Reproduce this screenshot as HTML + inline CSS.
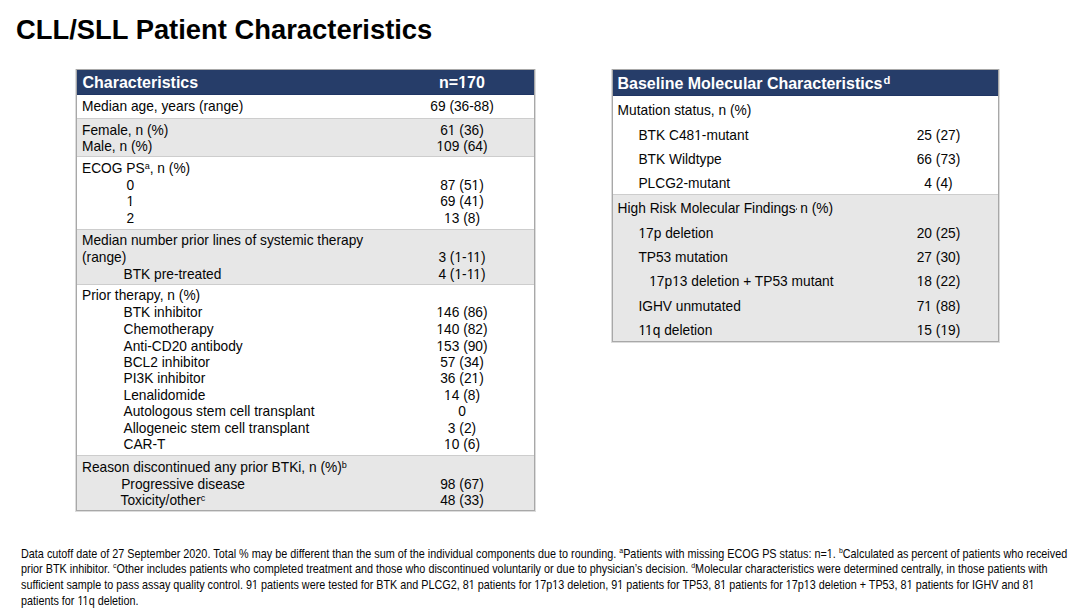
<!DOCTYPE html>
<html><head><meta charset="utf-8"><style>
html,body{margin:0;padding:0;background:#fff;}
body{width:1080px;height:614px;position:relative;overflow:hidden;font-family:"Liberation Sans",sans-serif;}
.t{position:absolute;white-space:nowrap;}
sup{font-size:0.66em;vertical-align:0;position:relative;top:-0.4em;line-height:0;}
sup.h{font-size:0.7em;top:-0.42em;margin-left:1px;}
.one{display:inline-block;clip-path:polygon(0 0,100% 0,100% calc(100% - 3px - 0.1em),0.345em calc(100% - 3px - 0.1em),0.345em 100%,0.245em 100%,0.245em calc(100% - 3px - 0.1em),0 calc(100% - 3px - 0.1em));}
.b .one{clip-path:polygon(0 0,100% 0,100% calc(100% - 3px - 0.13em),0.375em calc(100% - 3px - 0.13em),0.375em 100%,0.23em 100%,0.23em calc(100% - 3px - 0.13em),0 calc(100% - 3px - 0.13em));}
.one.k{margin-left:-0.074em;}
.f{transform-origin:0 0;}
.f sup{top:-0.62em;font-size:0.64em;}
</style></head><body>
<div class="t b" style="top:14.00px;font-size:27.39px;line-height:31.00px;color:#000;font-weight:bold;left:16px;">CLL/SLL Patient Characteristics</div>
<div style="position:absolute;left:77px;top:95px;width:457px;height:23px;background:#fff;"></div>
<div style="position:absolute;left:77px;top:119px;width:457px;height:37px;background:#e7e7e7;"></div>
<div style="position:absolute;left:77px;top:157px;width:457px;height:72px;background:#fff;"></div>
<div style="position:absolute;left:77px;top:230px;width:457px;height:54px;background:#e7e7e7;"></div>
<div style="position:absolute;left:77px;top:285px;width:457px;height:170px;background:#fff;"></div>
<div style="position:absolute;left:77px;top:456px;width:457px;height:54px;background:#e7e7e7;"></div>
<div style="position:absolute;left:77px;top:70px;width:457px;height:25px;background:#263d69;"></div>
<div style="position:absolute;left:77px;top:94px;width:457px;height:1px;background:#1f3563;"></div>
<div style="position:absolute;left:77px;top:118px;width:457px;height:1px;background:#cdcdcd;"></div>
<div style="position:absolute;left:77px;top:156px;width:457px;height:1px;background:#cdcdcd;"></div>
<div style="position:absolute;left:77px;top:229px;width:457px;height:1px;background:#cdcdcd;"></div>
<div style="position:absolute;left:77px;top:284px;width:457px;height:1px;background:#cdcdcd;"></div>
<div style="position:absolute;left:77px;top:455px;width:457px;height:1px;background:#cdcdcd;"></div>
<div style="position:absolute;left:76px;top:69px;width:459px;height:1px;background:#a8a8a8;"></div>
<div style="position:absolute;left:76px;top:510px;width:459px;height:1px;background:#a8a8a8;"></div>
<div style="position:absolute;left:76px;top:69px;width:1px;height:442px;background:#a8a8a8;"></div>
<div style="position:absolute;left:534px;top:69px;width:1px;height:442px;background:#a8a8a8;"></div>
<div style="position:absolute;left:75px;top:69px;width:1px;height:443px;background:#dcdcdc;"></div>
<div style="position:absolute;left:535px;top:69px;width:1px;height:443px;background:#dcdcdc;"></div>
<div style="position:absolute;left:75px;top:511px;width:461px;height:1px;background:#dcdcdc;"></div>
<div class="t b" style="top:74.00px;font-size:16px;line-height:17.00px;color:#fff;font-weight:bold;left:82.5px;">Characteristics</div>
<div class="t b" style="top:74.00px;font-size:16px;line-height:17.00px;color:#fff;font-weight:bold;left:312px;width:300px;text-align:center;">n=<span class="one">1</span>70</div>
<div class="t" style="top:99.00px;font-size:13.75px;line-height:15.00px;color:#050505;left:82px;">Median age, years (range)</div>
<div class="t" style="top:99.00px;font-size:13.75px;line-height:15.00px;color:#050505;left:312px;width:300px;text-align:center;">69 (36-88)</div>
<div class="t" style="top:123.00px;font-size:13.75px;line-height:15.00px;color:#050505;left:82px;">Female, n (%)</div>
<div class="t" style="top:123.00px;font-size:13.75px;line-height:15.00px;color:#050505;left:312px;width:300px;text-align:center;">6<span class="one">1</span> (36)</div>
<div class="t" style="top:139.00px;font-size:13.75px;line-height:15.00px;color:#050505;left:82px;">Male, n (%)</div>
<div class="t" style="top:139.00px;font-size:13.75px;line-height:15.00px;color:#050505;left:312px;width:300px;text-align:center;"><span class="one">1</span>09 (64)</div>
<div class="t" style="top:161.00px;font-size:13.75px;line-height:15.00px;color:#050505;left:82px;">ECOG PS<sup>a</sup>, n (%)</div>
<div class="t" style="top:178.00px;font-size:13.75px;line-height:15.00px;color:#050505;left:126.5px;">0</div>
<div class="t" style="top:178.00px;font-size:13.75px;line-height:15.00px;color:#050505;left:312px;width:300px;text-align:center;">87 (5<span class="one">1</span>)</div>
<div class="t" style="top:194.00px;font-size:13.75px;line-height:15.00px;color:#050505;left:126.5px;"><span class="one">1</span></div>
<div class="t" style="top:194.00px;font-size:13.75px;line-height:15.00px;color:#050505;left:312px;width:300px;text-align:center;">69 (4<span class="one">1</span>)</div>
<div class="t" style="top:211.00px;font-size:13.75px;line-height:15.00px;color:#050505;left:126.5px;">2</div>
<div class="t" style="top:211.00px;font-size:13.75px;line-height:15.00px;color:#050505;left:312px;width:300px;text-align:center;"><span class="one">1</span>3 (8)</div>
<div class="t" style="top:233.00px;font-size:13.75px;line-height:15.00px;color:#050505;left:82px;">Median number prior lines of systemic therapy</div>
<div class="t" style="top:250.00px;font-size:13.75px;line-height:15.00px;color:#050505;left:82px;">(range)</div>
<div class="t" style="top:250.00px;font-size:13.75px;line-height:15.00px;color:#050505;left:312px;width:300px;text-align:center;">3 (<span class="one">1</span>-<span class="one">1</span><span class="one k">1</span>)</div>
<div class="t" style="top:267.00px;font-size:13.75px;line-height:15.00px;color:#050505;left:123.5px;">BTK pre-treated</div>
<div class="t" style="top:267.00px;font-size:13.75px;line-height:15.00px;color:#050505;left:312px;width:300px;text-align:center;">4 (<span class="one">1</span>-<span class="one">1</span><span class="one k">1</span>)</div>
<div class="t" style="top:288.00px;font-size:13.75px;line-height:15.00px;color:#050505;left:82px;">Prior therapy, n (%)</div>
<div class="t" style="top:305.00px;font-size:13.75px;line-height:15.00px;color:#050505;left:123.5px;">BTK inhibitor</div>
<div class="t" style="top:305.00px;font-size:13.75px;line-height:15.00px;color:#050505;left:312px;width:300px;text-align:center;"><span class="one">1</span>46 (86)</div>
<div class="t" style="top:322.00px;font-size:13.75px;line-height:15.00px;color:#050505;left:123.5px;">Chemotherapy</div>
<div class="t" style="top:322.00px;font-size:13.75px;line-height:15.00px;color:#050505;left:312px;width:300px;text-align:center;"><span class="one">1</span>40 (82)</div>
<div class="t" style="top:339.00px;font-size:13.75px;line-height:15.00px;color:#050505;left:123.5px;">Anti-CD20 antibody</div>
<div class="t" style="top:339.00px;font-size:13.75px;line-height:15.00px;color:#050505;left:312px;width:300px;text-align:center;"><span class="one">1</span>53 (90)</div>
<div class="t" style="top:355.00px;font-size:13.75px;line-height:15.00px;color:#050505;left:123.5px;">BCL2 inhibitor</div>
<div class="t" style="top:355.00px;font-size:13.75px;line-height:15.00px;color:#050505;left:312px;width:300px;text-align:center;">57 (34)</div>
<div class="t" style="top:371.00px;font-size:13.75px;line-height:15.00px;color:#050505;left:123.5px;">PI3K inhibitor</div>
<div class="t" style="top:371.00px;font-size:13.75px;line-height:15.00px;color:#050505;left:312px;width:300px;text-align:center;">36 (2<span class="one">1</span>)</div>
<div class="t" style="top:388.00px;font-size:13.75px;line-height:15.00px;color:#050505;left:123.5px;">Lenalidomide</div>
<div class="t" style="top:388.00px;font-size:13.75px;line-height:15.00px;color:#050505;left:312px;width:300px;text-align:center;"><span class="one">1</span>4 (8)</div>
<div class="t" style="top:404.00px;font-size:13.75px;line-height:15.00px;color:#050505;left:123.5px;">Autologous stem cell transplant</div>
<div class="t" style="top:404.00px;font-size:13.75px;line-height:15.00px;color:#050505;left:312px;width:300px;text-align:center;">0</div>
<div class="t" style="top:421.00px;font-size:13.75px;line-height:15.00px;color:#050505;left:123.5px;">Allogeneic stem cell transplant</div>
<div class="t" style="top:421.00px;font-size:13.75px;line-height:15.00px;color:#050505;left:312px;width:300px;text-align:center;">3 (2)</div>
<div class="t" style="top:437.00px;font-size:13.75px;line-height:15.00px;color:#050505;left:123.5px;">CAR-T</div>
<div class="t" style="top:437.00px;font-size:13.75px;line-height:15.00px;color:#050505;left:312px;width:300px;text-align:center;"><span class="one">1</span>0 (6)</div>
<div class="t" style="top:460.00px;font-size:13.75px;line-height:15.00px;color:#050505;left:82px;">Reason discontinued any prior BTKi, n (%)<sup>b</sup></div>
<div class="t" style="top:477.00px;font-size:13.75px;line-height:15.00px;color:#050505;left:121.2px;">Progressive disease</div>
<div class="t" style="top:477.00px;font-size:13.75px;line-height:15.00px;color:#050505;left:312px;width:300px;text-align:center;">98 (67)</div>
<div class="t" style="top:493.00px;font-size:13.75px;line-height:15.00px;color:#050505;left:120.5px;">Toxicity/other<sup>c</sup></div>
<div class="t" style="top:493.00px;font-size:13.75px;line-height:15.00px;color:#050505;left:312px;width:300px;text-align:center;">48 (33)</div>
<div style="position:absolute;left:613px;top:96px;width:385px;height:98px;background:#fff;"></div>
<div style="position:absolute;left:613px;top:195px;width:385px;height:146px;background:#e7e7e7;"></div>
<div style="position:absolute;left:613px;top:70px;width:385px;height:26px;background:#263d69;"></div>
<div style="position:absolute;left:613px;top:95px;width:385px;height:1px;background:#1f3563;"></div>
<div style="position:absolute;left:613px;top:194px;width:385px;height:1px;background:#cdcdcd;"></div>
<div style="position:absolute;left:612px;top:69px;width:387px;height:1px;background:#a8a8a8;"></div>
<div style="position:absolute;left:612px;top:341px;width:387px;height:1px;background:#a8a8a8;"></div>
<div style="position:absolute;left:612px;top:69px;width:1px;height:273px;background:#a8a8a8;"></div>
<div style="position:absolute;left:998px;top:69px;width:1px;height:273px;background:#a8a8a8;"></div>
<div style="position:absolute;left:611px;top:69px;width:1px;height:274px;background:#dcdcdc;"></div>
<div style="position:absolute;left:999px;top:69px;width:1px;height:274px;background:#dcdcdc;"></div>
<div style="position:absolute;left:611px;top:342px;width:389px;height:1px;background:#dcdcdc;"></div>
<div class="t b" style="top:75.00px;font-size:16px;line-height:17.00px;color:#fff;font-weight:bold;left:617.5px;">Baseline Molecular Characteristics<sup class="h">d</sup></div>
<div class="t" style="top:103.00px;font-size:13.75px;line-height:15.00px;color:#050505;left:617.6px;">Mutation status, n (%)</div>
<div class="t" style="top:128.00px;font-size:13.75px;line-height:15.00px;color:#050505;left:638.4px;">BTK C48<span class="one">1</span>-mutant</div>
<div class="t" style="top:128.00px;font-size:13.75px;line-height:15.00px;color:#050505;left:788.5px;width:300px;text-align:center;">25 (27)</div>
<div class="t" style="top:152.00px;font-size:13.75px;line-height:15.00px;color:#050505;left:638.4px;">BTK Wildtype</div>
<div class="t" style="top:152.00px;font-size:13.75px;line-height:15.00px;color:#050505;left:788.5px;width:300px;text-align:center;">66 (73)</div>
<div class="t" style="top:176.00px;font-size:13.75px;line-height:15.00px;color:#050505;left:638.4px;">PLCG2-mutant</div>
<div class="t" style="top:176.00px;font-size:13.75px;line-height:15.00px;color:#050505;left:788.5px;width:300px;text-align:center;">4 (4)</div>
<div class="t" style="top:201.00px;font-size:13.75px;line-height:15.00px;color:#050505;left:617.6px;">High Risk Molecular Findings<span style="display:inline-block;width:1.4px;height:1.4px;margin-left:0.3px;margin-right:-0.9px;background:#444;border-radius:1px;vertical-align:3.5px"></span> n (%)</div>
<div class="t" style="top:226.00px;font-size:13.75px;line-height:15.00px;color:#050505;left:638.4px;"><span class="one">1</span>7p deletion</div>
<div class="t" style="top:226.00px;font-size:13.75px;line-height:15.00px;color:#050505;left:788.5px;width:300px;text-align:center;">20 (25)</div>
<div class="t" style="top:250.00px;font-size:13.75px;line-height:15.00px;color:#050505;left:638.4px;">TP53 mutation</div>
<div class="t" style="top:250.00px;font-size:13.75px;line-height:15.00px;color:#050505;left:788.5px;width:300px;text-align:center;">27 (30)</div>
<div class="t" style="top:274.00px;font-size:13.75px;line-height:15.00px;color:#050505;left:649.2px;"><span class="one">1</span>7p<span class="one">1</span>3 deletion + TP53 mutant</div>
<div class="t" style="top:274.00px;font-size:13.75px;line-height:15.00px;color:#050505;left:788.5px;width:300px;text-align:center;"><span class="one">1</span>8 (22)</div>
<div class="t" style="top:299.00px;font-size:13.75px;line-height:15.00px;color:#050505;left:638.4px;">IGHV unmutated</div>
<div class="t" style="top:299.00px;font-size:13.75px;line-height:15.00px;color:#050505;left:788.5px;width:300px;text-align:center;">7<span class="one">1</span> (88)</div>
<div class="t" style="top:323.00px;font-size:13.75px;line-height:15.00px;color:#050505;left:638.4px;"><span class="one">1</span><span class="one k">1</span>q deletion</div>
<div class="t" style="top:323.00px;font-size:13.75px;line-height:15.00px;color:#050505;left:788.5px;width:300px;text-align:center;"><span class="one">1</span>5 (<span class="one">1</span>9)</div>
<div class="t f" id="f0" style="left:21.2px;top:547.00px;font-size:12.6px;transform:scaleX(0.8597);line-height:14.00px;color:#050505;">Data cutoff date of 27 September 2020. Total % may be different than the sum of the individual components due to rounding. <sup>a</sup>Patients with missing ECOG PS status: n=<span class="one">1</span>. <sup>b</sup>Calculated as percent of patients who received</div>
<div class="t f" id="f1" style="left:21.2px;top:562.00px;font-size:12.6px;transform:scaleX(0.8599);line-height:14.00px;color:#050505;">prior BTK inhibitor. <sup>c</sup>Other includes patients who completed treatment and those who discontinued voluntarily or due to physician&#8217;s decision. <sup>d</sup>Molecular characteristics were determined centrally, in those patients with</div>
<div class="t f" id="f2" style="left:21.2px;top:578.00px;font-size:12.6px;transform:scaleX(0.8578);line-height:14.00px;color:#050505;">sufficient sample to pass assay quality control. 9<span class="one">1</span> patients were tested for BTK and PLCG2, 8<span class="one">1</span> patients for <span class="one">1</span>7p<span class="one">1</span>3 deletion, 9<span class="one">1</span> patients for TP53, 8<span class="one">1</span> patients for <span class="one">1</span>7p<span class="one">1</span>3 deletion + TP53, 8<span class="one">1</span> patients for IGHV and 8<span class="one">1</span></div>
<div class="t f" id="f3" style="left:21.2px;top:594.00px;font-size:12.6px;transform:scaleX(0.8569);line-height:14.00px;color:#050505;">patients for <span class="one">1</span><span class="one k">1</span>q deletion.</div>
</body></html>
